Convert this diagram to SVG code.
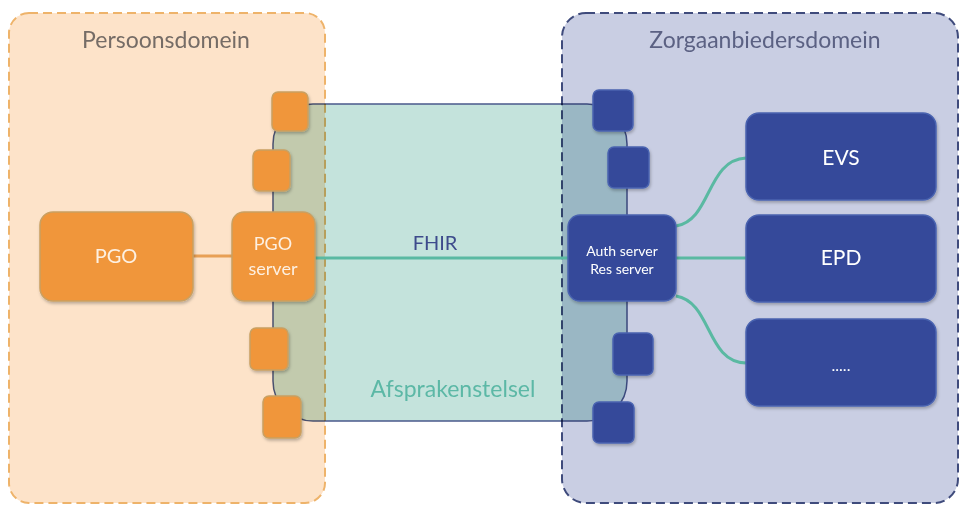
<svg xmlns="http://www.w3.org/2000/svg" width="961" height="507" viewBox="0 0 961 507">
<style>
.lbl{font-family:Lato,"Open Sans","Liberation Sans",sans-serif}
.dom{stroke-width:2;stroke-dasharray:9 5}
.or{fill:#f0963a;stroke:#c9a062;stroke-width:1.5}
.bl{fill:#344a9a;stroke:#4a63b0;stroke-width:1.5}
.wt{fill:#fdf0e2;text-anchor:middle}
.bt{fill:#ffffff;text-anchor:middle}
</style>
<defs>
<filter id="sh" x="-20%" y="-20%" width="140%" height="140%">
<feDropShadow dx="1" dy="2" stdDeviation="1.5" flood-color="#000" flood-opacity="0.25"/>
</filter>
</defs>
<rect width="961" height="507" fill="#ffffff"/>
<g id="persoonsdomein">
<rect class="dom" x="9" y="13" width="316" height="490" rx="20" fill="#fde3c9" stroke="#eeb36a"/>
<text class="lbl" x="166" y="48" font-size="23" fill="#756c66" text-anchor="middle">Persoonsdomein</text>
</g>
<g id="zorgaanbiedersdomein">
<rect class="dom" x="562" y="13" width="396" height="490" rx="24" fill="#c9cee3" stroke="#3f4b7c"/>
<text class="lbl" x="765" y="48" font-size="23" fill="#5b6183" text-anchor="middle">Zorgaanbiedersdomein</text>
</g>
<g id="afsprakenstelsel">
<rect x="273" y="104" width="354" height="317" rx="40" fill="#c4e3dc" stroke="#4a5a8c" stroke-width="1.5" style="mix-blend-mode:multiply"/>
<text class="lbl" x="453" y="397" font-size="23" fill="#5cb8a6" text-anchor="middle">Afsprakenstelsel</text>
</g>
<g id="connectors" fill="none">
<line x1="193" y1="256" x2="232" y2="256" stroke="#e8a055" stroke-width="3"/>
<path d="M315 258 L568 258" stroke="#5ab9a2" stroke-width="3"/>
<path d="M676 226 C712 220 706 160 746 158" stroke="#5ab9a2" stroke-width="3"/>
<path d="M676 258 L746 258" stroke="#5ab9a2" stroke-width="3"/>
<path d="M676 296 C712 302 706 362 746 363" stroke="#5ab9a2" stroke-width="3"/>
<text class="lbl" x="435" y="250" font-size="20" fill="#3d4b8c" text-anchor="middle" stroke="none">FHIR</text>
</g>
<g id="pgo" filter="url(#sh)">
<rect class="or" x="40" y="212" width="153" height="89" rx="13"/>
<text class="lbl wt" x="116" y="263" font-size="20">PGO</text>
</g>
<g id="pgo-server" filter="url(#sh)">
<rect class="or" x="232" y="212" width="83" height="89" rx="12"/>
<text class="lbl wt" x="273" y="250" font-size="18">PGO</text>
<text class="lbl wt" x="273" y="275" font-size="18">server</text>
</g>
<g id="p1" filter="url(#sh)"><rect class="or" x="272" y="92" width="36" height="39" rx="6"/></g>
<g id="p2" filter="url(#sh)"><rect class="or" x="253" y="150" width="37" height="41" rx="6"/></g>
<g id="p3" filter="url(#sh)"><rect class="or" x="250" y="328" width="38" height="42" rx="6"/></g>
<g id="p4" filter="url(#sh)"><rect class="or" x="263" y="396" width="38" height="42" rx="6"/></g>
<g id="auth-server" filter="url(#sh)">
<rect class="bl" x="568" y="215" width="108" height="86" rx="12"/>
<text class="lbl bt" x="622" y="256" font-size="14">Auth server</text>
<text class="lbl bt" x="622" y="274" font-size="14">Res server</text>
</g>
<g id="b1" filter="url(#sh)"><rect class="bl" x="593" y="90" width="40" height="41" rx="6"/></g>
<g id="b2" filter="url(#sh)"><rect class="bl" x="608" y="147" width="41" height="41" rx="6"/></g>
<g id="b3" filter="url(#sh)"><rect class="bl" x="613" y="333" width="40" height="42" rx="6"/></g>
<g id="b4" filter="url(#sh)"><rect class="bl" x="593" y="402" width="41" height="41" rx="6"/></g>
<g id="evs" filter="url(#sh)">
<rect class="bl" x="746" y="113" width="190" height="87" rx="13"/>
<text class="lbl bt" x="841" y="165" font-size="21">EVS</text>
</g>
<g id="epd" filter="url(#sh)">
<rect class="bl" x="746" y="215" width="190" height="87" rx="13"/>
<text class="lbl bt" x="841" y="265" font-size="21">EPD</text>
</g>
<g id="more" filter="url(#sh)">
<rect class="bl" x="746" y="319" width="190" height="87" rx="13"/>
<text class="lbl bt" x="841" y="371" font-size="16">.....</text>
</g>
</svg>
